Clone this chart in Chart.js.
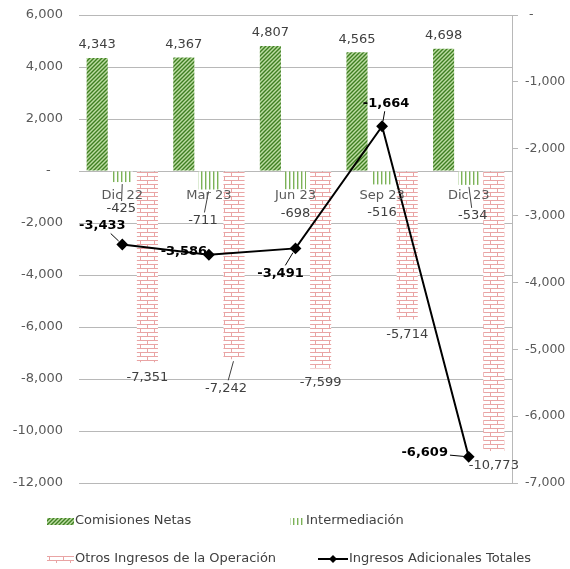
<!DOCTYPE html>
<html>
<head>
<meta charset="utf-8">
<script src="https://cdn.jsdelivr.net/npm/chart.js@4"></script>
<style>
  html, body { margin: 0; padding: 0; background: #fff; }
  #wrap { width: 570px; height: 569px; }
</style>
</head>
<body>
<div id="wrap"><canvas id="chart"></canvas></div>
<script>
// data
const periods = ['Dic 22', 'Mar 23', 'Jun 23', 'Sep 23', 'Dic 23'];
const comisiones = [4343, 4367, 4807, 4565, 4698];
const intermediacion = [-425, -711, -698, -516, -534];
const otrosIngresos = [-7351, -7242, -7599, -5714, -10773];
const ingresosTotales = [-3433, -3586, -3491, -1664, -6609];

Chart.defaults.font.family = "'DejaVu Sans', sans-serif";
Chart.defaults.font.size = 13;
Chart.defaults.color = '#595959';

// fill patterns
function hatch() {
    const c = document.createElement('canvas');
    c.width = 4; c.height = 4;
    const g = c.getContext('2d');
    g.fillStyle = '#bcdca2';
    g.fillRect(0, 0, 4, 4);
    g.strokeStyle = '#3f7f22';
    g.lineWidth = 1.4;
    g.beginPath();
    g.moveTo(0, 4); g.lineTo(4, 0);
    g.moveTo(-1, 1); g.lineTo(1, -1);
    g.moveTo(3, 5); g.lineTo(5, 3);
    g.stroke();
    return g.createPattern(c, 'repeat');
}
function vlines() {
    const c = document.createElement('canvas');
    c.width = 4; c.height = 4;
    const g = c.getContext('2d');
    g.fillStyle = '#ffffff';
    g.fillRect(0, 0, 4, 4);
    g.fillStyle = '#7cb257';
    g.fillRect(1, 0, 1.4, 4);
    return g.createPattern(c, 'repeat');
}
function bricks() {
    const c = document.createElement('canvas');
    c.width = 14; c.height = 8;
    const g = c.getContext('2d');
    g.fillStyle = '#ffffff';
    g.fillRect(0, 0, 14, 8);
    g.strokeStyle = '#e9a4a4';
    g.lineWidth = 1;
    g.beginPath();
    g.moveTo(0, 0.5); g.lineTo(14, 0.5);
    g.moveTo(0, 4.5); g.lineTo(14, 4.5);
    g.moveTo(0.5, 0); g.lineTo(0.5, 4.5);
    g.moveTo(7.5, 4.5); g.lineTo(7.5, 8);
    g.stroke();
    return g.createPattern(c, 'repeat');
}

// label offsets [dx, dy, leader] per dataset and point
const labelOffsets = [
    [[0, -13, 0], [0, -13, 0], [0, -13, 0], [0, -13, 0], [0, -13, 0]],
    [[-1, 27, 1], [-6, 31, 1], [0, 24, 0], [0, 28, 0], [4, 31, 1]],
    [[0, 15, 0], [-8, 29, 1], [0, 14, 0], [0, 15, 0], [0, 15, 0]],
    [[-20, -19, 1], [-25, -3, 0], [-15, 25, 1], [4, -23, 1], [-44, -4, 1]]
];

const labelPlugin = {
    id: 'valueLabels',
    afterDatasetsDraw(chart) {
        const ctx = chart.ctx;
        ctx.save();
        ctx.textAlign = 'center';
        ctx.textBaseline = 'middle';
        chart.data.datasets.forEach((ds, i) => {
            const meta = chart.getDatasetMeta(i);
            const bold = ds.type === 'line';
            ctx.font = (bold ? 'bold ' : '') + "13px 'DejaVu Sans', sans-serif";
            ctx.fillStyle = bold ? '#000' : '#404040';
            ctx.strokeStyle = bold ? '#000' : '#404040';
            ctx.lineWidth = 1;
            meta.data.forEach((el, j) => {
                const txt = ds.data[j].toLocaleString('en-US');
                const [dx, dy, lead] = labelOffsets[i][j];
                const lx = el.x + dx, ly = el.y + dy;
                ctx.fillText(txt, lx, ly);
                if (lead) {
                    const hw = ctx.measureText(txt).width / 2 + 2, hh = 8;
                    const vx = el.x - lx, vy = el.y - ly;
                    const t = Math.min(vx ? hw / Math.abs(vx) : 99, vy ? hh / Math.abs(vy) : 99);
                    const len = Math.hypot(vx, vy);
                    const gap = bold ? 5 : 2;
                    ctx.beginPath();
                    ctx.moveTo(lx + vx * t, ly + vy * t);
                    ctx.lineTo(el.x - vx / len * gap, el.y - vy / len * gap);
                    ctx.stroke();
                }
            });
        });
        ctx.restore();
    }
};

// legend drawn in place, two rows like the original
const legendItems = [
    { ds: 0, x: 47, y: 521, w: 27 },
    { ds: 1, x: 290, y: 521, w: 15 },
    { ds: 2, x: 47, y: 559, w: 27 },
    { ds: 3, x: 318, y: 559, w: 30 }
];

const legendPlugin = {
    id: 'placedLegend',
    afterDraw(chart) {
        const ctx = chart.ctx;
        ctx.save();
        legendItems.forEach(it => {
            const ds = chart.data.datasets[it.ds];
            if (ds.type === 'line') {
                ctx.strokeStyle = '#000';
                ctx.lineWidth = 2;
                ctx.beginPath();
                ctx.moveTo(it.x, it.y);
                ctx.lineTo(it.x + it.w, it.y);
                ctx.stroke();
                const cx = it.x + it.w / 2;
                ctx.fillStyle = '#000';
                ctx.beginPath();
                ctx.moveTo(cx, it.y - 4); ctx.lineTo(cx + 4, it.y);
                ctx.lineTo(cx, it.y + 4); ctx.lineTo(cx - 4, it.y);
                ctx.closePath();
                ctx.fill();
            } else {
                ctx.fillStyle = ds.backgroundColor;
                ctx.fillRect(it.x, it.y - 3, it.w, 7);
            }
            ctx.fillStyle = '#404040';
            ctx.font = "13px 'DejaVu Sans', sans-serif";
            ctx.textAlign = 'left';
            ctx.textBaseline = 'middle';
            ctx.fillText(ds.label, it.x + it.w + 1, it.y);
        });
        ctx.restore();
    }
};

const fmt = v => v === 0 ? '-' : v.toLocaleString('en-US');

new Chart(document.getElementById('chart'), {
    type: 'bar',
    data: {
        labels: periods,
        datasets: [
            { label: 'Comisiones Netas', data: comisiones, backgroundColor: hatch(), order: 1 },
            { label: 'Intermediación', data: intermediacion, backgroundColor: vlines(), order: 1 },
            { label: 'Otros Ingresos de la Operación', data: otrosIngresos, backgroundColor: bricks(), order: 1 },
            {
                type: 'line', label: 'Ingresos Adicionales Totales', data: ingresosTotales, yAxisID: 'y1',
                borderColor: '#000', backgroundColor: '#000', borderWidth: 2,
                pointStyle: 'rectRot', pointRadius: 4.5, tension: 0, order: 0
            }
        ]
    },
    options: {
        responsive: true,
        maintainAspectRatio: false,
        animation: false,
        layout: { padding: { top: 15, bottom: 86, left: 0, right: 0 } },
        datasets: { bar: { categoryPercentage: 0.87, barPercentage: 0.84 } },
        plugins: { legend: { display: false }, tooltip: { enabled: false } },
        scales: {
            x: {
                position: { y: 0 },
                grid: { display: false },
                border: { display: false },
                ticks: { color: '#595959', padding: 9, maxRotation: 0, z: 1 },
                afterFit: s => { s.height = 0; }
            },
            y: {
                position: 'left',
                min: -12000, max: 6000,
                // tick padding also pads the chart top, so the gap comes from hidden ticks
                ticks: { stepSize: 2000, padding: 4, callback: v => v === 0 ? '-   ' : fmt(v) },
                grid: { color: '#b8b8b8', drawTicks: true, tickLength: 12, tickColor: 'rgba(0,0,0,0)' },
                border: { display: false },
                afterFit: s => { s.width = 79; }
            },
            y1: {
                position: 'right',
                min: -7000, max: 0,
                ticks: { stepSize: 1000, padding: 7, font: { size: 12.5 }, callback: v => v === 0 ? ' -' : fmt(v) },
                grid: { drawOnChartArea: false, drawTicks: true, tickLength: 6, color: '#b8b8b8' },
                border: { display: true, color: '#b8b8b8' },
                afterFit: s => { s.width = 58; }
            }
        }
    },
    plugins: [labelPlugin, legendPlugin]
});
</script>
</body>
</html>
